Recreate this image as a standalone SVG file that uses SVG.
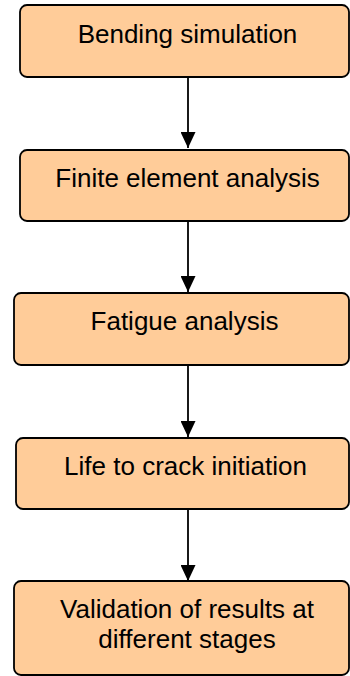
<svg xmlns="http://www.w3.org/2000/svg" width="350" height="676" viewBox="0 0 350 676">
<style>
.box{fill:#FFCC99;stroke:#000;stroke-width:1.8}
.lbl{font-family:"Liberation Sans",Arial,sans-serif;font-size:26px;fill:#000;text-anchor:middle}
.conn{stroke:#000;stroke-width:1.8;fill:none}
</style>
<defs>
<marker id="arr" markerWidth="16" markerHeight="15" refX="16" refY="7.5" orient="auto" markerUnits="userSpaceOnUse">
<path d="M0,0 L16,7.5 L0,15 Z" fill="#000"/>
</marker>
</defs>
<rect x="0" y="0" width="350" height="676" fill="#fff"/>
<g id="connectors">
<line class="conn" x1="188" y1="77" x2="188" y2="148" marker-end="url(#arr)"/>
<line class="conn" x1="188" y1="221" x2="188" y2="292" marker-end="url(#arr)"/>
<line class="conn" x1="188" y1="365" x2="188" y2="437" marker-end="url(#arr)"/>
<line class="conn" x1="188" y1="509" x2="188" y2="581" marker-end="url(#arr)"/>
</g>
<g id="n1">
<rect class="box" x="20" y="5" width="329" height="72" rx="7"/>
<text class="lbl" x="187.5" y="43">Bending simulation</text>
</g>
<g id="n2">
<rect class="box" x="20" y="150" width="329" height="71" rx="7"/>
<text class="lbl" x="187.5" y="187">Finite element analysis</text>
</g>
<g id="n3">
<rect class="box" x="14" y="293" width="335" height="72" rx="7"/>
<text class="lbl" x="184.5" y="330">Fatigue analysis</text>
</g>
<g id="n4">
<rect class="box" x="16" y="438" width="333" height="71" rx="7"/>
<text class="lbl" x="185.5" y="475">Life to crack initiation</text>
</g>
<g id="n5">
<rect class="box" x="14" y="581" width="335" height="94" rx="7"/>
<text class="lbl" x="187" y="618">Validation of results at</text>
<text class="lbl" x="187" y="648">different stages</text>
</g>
</svg>
